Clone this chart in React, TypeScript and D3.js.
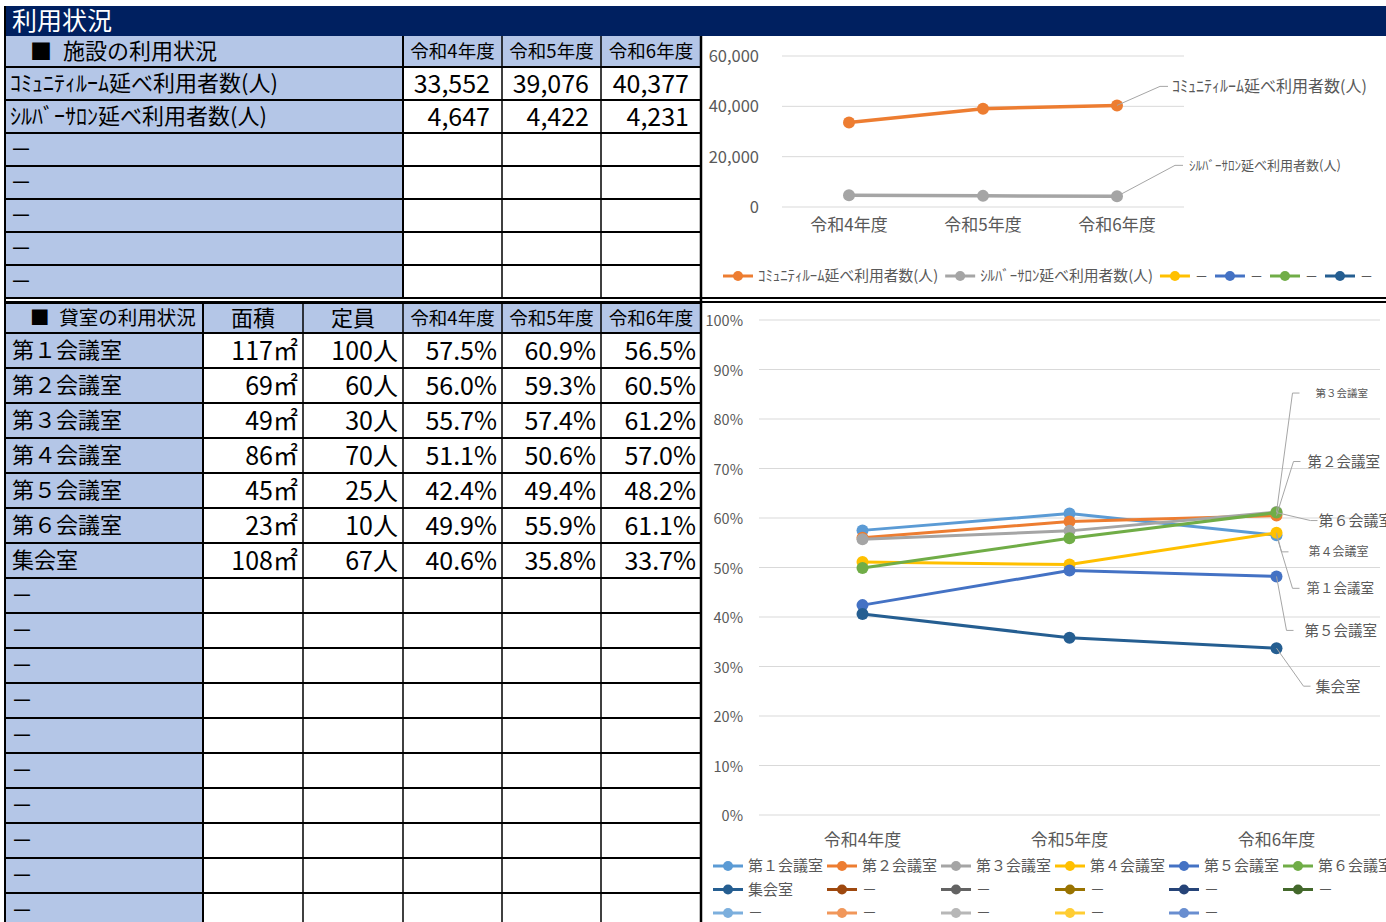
import * as d3 from 'd3';
import React, { useEffect, useRef } from 'react';

const years = ['令和4年度', '令和5年度', '令和6年度'];

const facilityNames = ['ｺﾐｭﾆﾃｨﾙｰﾑ延べ利用者数(人)', 'ｼﾙﾊﾞｰｻﾛﾝ延べ利用者数(人)'];
const communityUsers = [33552, 39076, 40377];
const silverUsers = [4647, 4422, 4231];
const facilityTicks = [0, 20000, 40000, 60000];

const roomNames = ['第１会議室', '第２会議室', '第３会議室', '第４会議室', '第５会議室', '第６会議室', '集会室'];
const roomArea = [117, 69, 49, 86, 45, 23, 108];
const roomCapacity = [100, 60, 30, 70, 25, 10, 67];
const rateR4 = [57.5, 56.0, 55.7, 51.1, 42.4, 49.9, 40.6];
const rateR5 = [60.9, 59.3, 57.4, 50.6, 49.4, 55.9, 35.8];
const rateR6 = [56.5, 60.5, 61.2, 57.0, 48.2, 61.1, 33.7];
const rateTicks = [0, 10, 20, 30, 40, 50, 60, 70, 80, 90, 100];

const facilityColors = ['#ED7D31', '#A5A5A5'];
const facilityEmptyColors = ['#FFC000', '#4472C4', '#70AD47', '#255E91'];
const roomColors = ['#5B9BD5', '#ED7D31', '#A5A5A5', '#FFC000', '#4472C4', '#70AD47', '#255E91'];
const roomEmptyColors = [
    '#9E480E', '#636363', '#997300', '#264478', '#43682B',
    '#7CAFDD', '#F1975A', '#B7B7B7', '#FFCD33', '#698ED0',
];

// data label placement next to the last point (corner x, dy, text x, font size)
const facilityLabelPos = [
    { cx: 43, dy: -19, tx: 55, size: 16 },
    { cx: 58, dy: -31, tx: 72, size: 13 },
];
const roomLabelPos = [
    { cx: 16, dy: 53, tx: 30, size: 13.5 },
    { cx: 17, dy: -54, tx: 31, size: 14.5 },
    { cx: 16, dy: -119, tx: 39, size: 10.5 },
    { cx: 5, dy: 19, tx: 32, size: 12 },
    { cx: 10, dy: 54, tx: 28, size: 14.5 },
    { cx: 34, dy: 8, tx: 42, size: 15 },
    { cx: 27, dy: 38, tx: 39, size: 15 },
];

const FONT = '"Noto Sans CJK JP", "Noto Sans", sans-serif';
const BLUE = '#B4C6E7';
const NAVY = '#002060';
const DASH = '－';

const App: React.FC = () => {
    const svgRef = useRef<SVGSVGElement | null>(null);

    useEffect(() => {
        if (!svgRef.current) return;
        const svg = d3.select(svgRef.current);
        svg.selectAll('*').remove();
        svg.style('font-family', FONT);

        const text = (
            g: any, x: number, y: number, s: string, size: number,
            anchor = 'start', fill = '#000',
        ) =>
            g.append('text')
                .attr('x', x)
                .attr('y', y)
                .attr('dy', '0.36em')
                .attr('font-size', size)
                .attr('text-anchor', anchor)
                .attr('fill', fill)
                .text(s);

        // title bar
        svg.append('rect').attr('x', 5).attr('y', 6).attr('width', 1381).attr('height', 30).attr('fill', NAVY);
        text(svg, 12, 21, '利用状況', 25, 'start', '#fff');

        // ---- top table: facility usage
        const t1 = svg.append('g');
        const c1 = [5, 403, 502, 601, 701];
        const headTop = 36;
        const headH = 31;
        const rowH1 = 33;
        const facRows = [
            { label: facilityNames[0], values: communityUsers },
            { label: facilityNames[1], values: silverUsers },
            ...d3.range(5).map(() => ({ label: DASH, values: null as number[] | null })),
        ];
        t1.append('rect').attr('x', c1[0]).attr('y', headTop).attr('width', c1[4] - c1[0]).attr('height', headH).attr('fill', BLUE);
        t1.append('rect').attr('x', c1[0]).attr('y', headTop + headH).attr('width', c1[1] - c1[0]).attr('height', rowH1 * 7).attr('fill', BLUE);
        t1.append('rect').attr('x', c1[1]).attr('y', headTop + headH).attr('width', c1[4] - c1[1]).attr('height', rowH1 * 7).attr('fill', '#fff');
        text(t1, 30, headTop + headH / 2, '■\u2002施設の利用状況', 22);
        years.forEach((yr, i) => text(t1, (c1[i + 1] + c1[i + 2]) / 2, headTop + headH / 2, yr, 18.5, 'middle'));
        const fmtInt = d3.format(',');
        facRows.forEach((r, i) => {
            const cy = headTop + headH + rowH1 * i + rowH1 / 2;
            text(t1, 10, cy, r.label, 22);
            if (r.values) r.values.forEach((v, j) => text(t1, c1[j + 2] - 12, cy, fmtInt(v), 25, 'end'));
        });
        d3.range(8).forEach((i) => {
            const y = headTop + headH + rowH1 * i;
            t1.append('line').attr('x1', c1[0]).attr('x2', c1[4]).attr('y1', y).attr('y2', y).attr('stroke', '#000').attr('stroke-width', 2);
        });
        c1.forEach((x, i) => {
            t1.append('line').attr('x1', x).attr('x2', x).attr('y1', headTop).attr('y2', headTop + headH + rowH1 * 7)
                .attr('stroke', '#000').attr('stroke-width', i === 2 || i === 3 ? 1.5 : 2);
        });

        // ---- lower table: rooms
        const t2 = svg.append('g');
        const c2 = [5, 203, 303, 403, 502, 601, 701];
        const head2 = 303;
        const head2H = 30;
        const rowH2 = 35;
        const nRows2 = 17;
        t2.append('rect').attr('x', c2[0]).attr('y', head2).attr('width', c2[6] - c2[0]).attr('height', head2H).attr('fill', BLUE);
        t2.append('rect').attr('x', c2[0]).attr('y', head2 + head2H).attr('width', c2[1] - c2[0]).attr('height', rowH2 * nRows2).attr('fill', BLUE);
        t2.append('rect').attr('x', c2[1]).attr('y', head2 + head2H).attr('width', c2[6] - c2[1]).attr('height', rowH2 * nRows2).attr('fill', '#fff');
        const hy = head2 + head2H / 2;
        text(t2, 30, hy, '■\u2002貸室の利用状況', 19.5);
        text(t2, (c2[1] + c2[2]) / 2, hy, '面積', 22, 'middle');
        text(t2, (c2[2] + c2[3]) / 2, hy, '定員', 22, 'middle');
        years.forEach((yr, i) => text(t2, (c2[i + 3] + c2[i + 4]) / 2, hy, yr, 18.5, 'middle'));
        const fmtPct = (v: number) => `${d3.format('.1f')(v)}%`;
        d3.range(nRows2).forEach((i) => {
            const cy = head2 + head2H + rowH2 * i + rowH2 / 2;
            if (i < roomNames.length) {
                text(t2, 12, cy, roomNames[i], 22);
                text(t2, c2[2] - 5, cy, `${roomArea[i]}㎡`, 25, 'end');
                text(t2, c2[3] - 5, cy, `${roomCapacity[i]}人`, 25, 'end');
                [rateR4, rateR5, rateR6].forEach((arr, j) => text(t2, c2[j + 4] - 5, cy, fmtPct(arr[i]), 25, 'end'));
            } else {
                text(t2, 11, cy, DASH, 22);
            }
        });
        d3.range(nRows2 + 1).forEach((i) => {
            const y = head2 + head2H + rowH2 * i;
            t2.append('line').attr('x1', c2[0]).attr('x2', c2[6]).attr('y1', y).attr('y2', y).attr('stroke', '#000').attr('stroke-width', 2);
        });
        t2.append('line').attr('x1', c2[0]).attr('x2', c2[6]).attr('y1', head2).attr('y2', head2).attr('stroke', '#000').attr('stroke-width', 2);
        c2.forEach((x, i) => {
            t2.append('line').attr('x1', x).attr('x2', x).attr('y1', head2).attr('y2', 922)
                .attr('stroke', '#000').attr('stroke-width', i === 0 || i === 1 || i === 6 ? 2 : 1.5);
        });

        // ---- shared helpers for charts
        const grid = '#D9D9D9';
        const axisFill = '#595959';

        const legendItem = (g: any, x: number, y: number, color: string, label: string, size: number) => {
            g.append('line').attr('x1', x).attr('x2', x + 30).attr('y1', y).attr('y2', y)
                .attr('stroke', color).attr('stroke-width', 3);
            g.append('circle').attr('cx', x + 15).attr('cy', y).attr('r', 5).attr('fill', color);
            const t = text(g, x + 35, y, label, size, 'start', axisFill);
            return (t.node() as SVGTextElement).getComputedTextLength();
        };

        // ---- top chart
        const ch1 = svg.append('g');
        ch1.append('rect').attr('x', 702).attr('y', 36).attr('width', 684).attr('height', 262).attr('fill', '#fff');
        const x1 = d3.scaleBand().domain(years).range([782, 1184]);
        const y1 = d3.scaleLinear().domain([0, 60000]).range([207, 56]);
        const xc1 = (d: string) => (x1(d) as number) + x1.bandwidth() / 2;
        facilityTicks.forEach((t) => {
            ch1.append('line').attr('x1', 782).attr('x2', 1184).attr('y1', y1(t)).attr('y2', y1(t))
                .attr('stroke', grid).attr('stroke-width', 1);
            text(ch1, 759, y1(t), fmtInt(t), 16.5, 'end', axisFill);
        });
        years.forEach((yr) => text(ch1, xc1(yr), 225, yr, 17, 'middle', axisFill));
        const facSeries = [communityUsers, silverUsers];
        const line1 = d3.line<number>().x((_, i) => xc1(years[i])).y((d) => y1(d));
        facSeries.forEach((vals, si) => {
            ch1.append('path').attr('d', line1(vals)).attr('fill', 'none')
                .attr('stroke', facilityColors[si]).attr('stroke-width', 3.5).attr('stroke-linejoin', 'round');
            vals.forEach((v, i) => {
                ch1.append('circle').attr('cx', xc1(years[i])).attr('cy', y1(v)).attr('r', 6).attr('fill', facilityColors[si]);
            });
        });
        facSeries.forEach((vals, si) => {
            const px = xc1(years[2]);
            const py = y1(vals[2]);
            const p = facilityLabelPos[si];
            ch1.append('polyline')
                .attr('points', `${px},${py} ${px + p.cx},${py + p.dy} ${px + p.cx + 8},${py + p.dy}`)
                .attr('fill', 'none').attr('stroke', '#A6A6A6').attr('stroke-width', 1);
            text(ch1, px + p.tx, py + p.dy, facilityNames[si], p.size, 'start', axisFill);
        });
        let lx = 723;
        const leg1 = [
            ...facilityNames.map((n, i) => ({ color: facilityColors[i], label: n })),
            ...facilityEmptyColors.map((c) => ({ color: c, label: DASH })),
        ];
        leg1.forEach((e) => {
            const w = legendItem(ch1, lx, 276, e.color, e.label, e.label === DASH ? 13 : 14.8);
            lx += 35 + w + 7;
        });

        // double separator between the two blocks
        svg.append('line').attr('x1', 5).attr('x2', 1386).attr('y1', 298).attr('y2', 298).attr('stroke', '#000').attr('stroke-width', 2);
        svg.append('line').attr('x1', 5).attr('x2', 1386).attr('y1', 302).attr('y2', 302).attr('stroke', '#000').attr('stroke-width', 2);

        // ---- bottom chart
        const ch2 = svg.append('g');
        ch2.append('rect').attr('x', 702).attr('y', 303).attr('width', 684).attr('height', 619).attr('fill', '#fff');
        const x2 = d3.scaleBand().domain(years).range([759, 1380]);
        const y2 = d3.scaleLinear().domain([0, 100]).range([815, 320]);
        const xc2 = (d: string) => (x2(d) as number) + x2.bandwidth() / 2;
        rateTicks.forEach((t) => {
            ch2.append('line').attr('x1', 759).attr('x2', 1380).attr('y1', y2(t)).attr('y2', y2(t))
                .attr('stroke', grid).attr('stroke-width', 1);
            text(ch2, 743, y2(t) + 1, `${t}%`, 14.5, 'end', axisFill);
        });
        years.forEach((yr) => text(ch2, xc2(yr), 840, yr, 17, 'middle', axisFill));
        const line2 = d3.line<number>().x((_, i) => xc2(years[i])).y((d) => y2(d));
        const roomSeries = roomNames.map((_, r) => [rateR4[r], rateR5[r], rateR6[r]]);
        roomSeries.forEach((vals, si) => {
            ch2.append('path').attr('d', line2(vals)).attr('fill', 'none')
                .attr('stroke', roomColors[si]).attr('stroke-width', 3).attr('stroke-linejoin', 'round');
            vals.forEach((v, i) => {
                ch2.append('circle').attr('cx', xc2(years[i])).attr('cy', y2(v)).attr('r', 6).attr('fill', roomColors[si]);
            });
        });
        roomSeries.forEach((vals, si) => {
            const px = xc2(years[2]);
            const py = y2(vals[2]);
            const p = roomLabelPos[si];
            ch2.append('polyline')
                .attr('points', `${px},${py} ${px + p.cx},${py + p.dy} ${px + p.cx + 7},${py + p.dy}`)
                .attr('fill', 'none').attr('stroke', '#A6A6A6').attr('stroke-width', 1);
            text(ch2, px + p.tx, py + p.dy, roomNames[si], p.size, 'start', axisFill);
        });
        const leg2 = [
            ...roomNames.map((n, i) => ({ color: roomColors[i], label: n })),
            ...roomEmptyColors.map((c) => ({ color: c, label: DASH })),
        ];
        leg2.forEach((e, i) => {
            legendItem(ch2, 713 + (i % 6) * 114, 866 + Math.floor(i / 6) * 23.5, e.color, e.label, 15);
        });

        // outer borders
        svg.append('line').attr('x1', 5).attr('x2', 5).attr('y1', 6).attr('y2', 922).attr('stroke', '#000').attr('stroke-width', 2);
        svg.append('line').attr('x1', 701).attr('x2', 701).attr('y1', 36).attr('y2', 922).attr('stroke', '#000').attr('stroke-width', 2.5);
    }, []);

    return (
        <svg
            ref={svgRef}
            width={1386}
            height={922}
            style={{ position: 'absolute', left: 0, top: 0, background: '#fff' }}
        />
    );
};

export default App;
